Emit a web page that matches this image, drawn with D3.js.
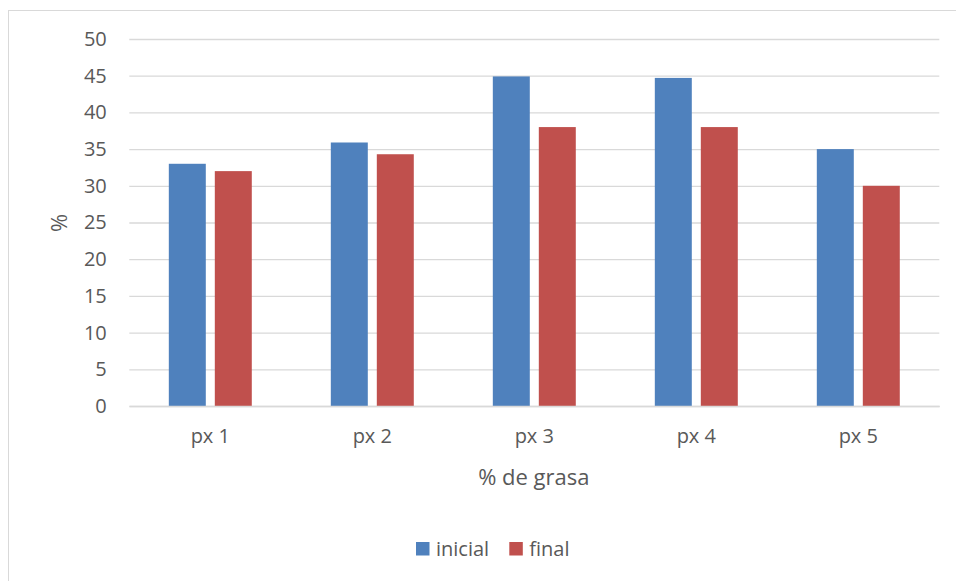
<!DOCTYPE html>
<html>
<head>
<meta charset="utf-8">
<script src="https://cdn.jsdelivr.net/npm/d3@7"></script>
<style>
  html, body { margin: 0; padding: 0; background: #fff; }
  svg { display: block; font-family: "Open Sans", "Liberation Sans", sans-serif; }
</style>
</head>
<body>
<svg id="chart" width="956" height="581"></svg>
<script>
const categories = ["px 1", "px 2", "px 3", "px 4", "px 5"];
const seriesNames = ["inicial", "final"];
const inicial = [33, 35.9, 44.9, 44.7, 35];
const final = [32, 34.3, 38, 38, 30];
const yTicks = [0, 5, 10, 15, 20, 25, 30, 35, 40, 45, 50];
const colors = ["#4f81bd", "#c0504d"];
const xTitle = "% de grasa";
const yTitle = "%";

const seriesValues = [inicial, final];
const svg = d3.select("#chart");
const W = 956, H = 581;
const plotLeft = 129.3, plotRight = 939.3, plotTop = 39, plotBottom = 406;
const textColor = "#595959";
const gridColor = "#d9d9d9";

// chart frame
svg.append("rect").attr("x", 8.5).attr("y", 10.5).attr("width", W + 10).attr("height", H + 10)
  .attr("fill", "#fff").attr("stroke", gridColor).attr("stroke-width", 1);

const x0 = d3.scaleBand().domain(categories).range([plotLeft, plotRight]).padding(0);
const x1 = d3.scaleBand().domain(seriesNames).range([0, x0.bandwidth()])
  .paddingInner(0.196).paddingOuter(0.859);
const y = d3.scaleLinear().domain([0, 50]).range([plotBottom, plotTop]);

// gridlines
const grid = svg.append("g").attr("transform", `translate(${plotLeft},0)`)
  .call(d3.axisLeft(y).tickValues(yTicks).tickSize(-(plotRight - plotLeft)).tickFormat(""));
grid.select(".domain").remove();
grid.selectAll("line").attr("stroke", gridColor).attr("stroke-width", 1.3);

// y tick labels
const yAx = svg.append("g").attr("transform", `translate(${plotLeft},0)`)
  .call(d3.axisLeft(y).tickValues(yTicks).tickSize(0).tickPadding(22.5).tickFormat(d3.format("d")));
yAx.select(".domain").remove();
yAx.selectAll("text").attr("fill", textColor).style("font-size", "20px")
  .style("font-family", "'Open Sans', sans-serif");

// bars
const groups = svg.append("g").selectAll("g").data(categories).join("g")
  .attr("transform", d => `translate(${x0(d)},0)`);
groups.selectAll("rect")
  .data((d, i) => seriesNames.map((s, j) => ({ s, v: seriesValues[j][i], j })))
  .join("rect")
  .attr("x", d => x1(d.s))
  .attr("width", x1.bandwidth())
  .attr("y", d => y(d.v))
  .attr("height", d => y(0) - y(d.v))
  .attr("fill", d => colors[d.j]);

// x axis
const xAx = svg.append("g").attr("transform", `translate(0,${plotBottom})`)
  .call(d3.axisBottom(x0).tickSize(0).tickPadding(23));
xAx.select(".domain").attr("stroke", gridColor).attr("stroke-width", 1.3);
xAx.selectAll("text").attr("fill", textColor).style("font-size", "20px")
  .style("font-family", "'Open Sans', sans-serif");

// axis titles
svg.append("text").attr("x", (plotLeft + plotRight) / 2 - 0.5).attr("y", 485)
  .attr("text-anchor", "middle").attr("fill", textColor).style("font-size", "22px")
  .text(xTitle);
svg.append("text").attr("transform", "translate(67,223) rotate(-90)")
  .attr("text-anchor", "middle").attr("fill", textColor).style("font-size", "22px")
  .text(yTitle);

// legend
const legendX = [416, 509.3];
const lg = svg.append("g").selectAll("g").data(seriesNames).join("g")
  .attr("transform", (d, i) => `translate(${legendX[i]},542)`);
lg.append("rect").attr("width", 13.5).attr("height", 13.5).attr("fill", (d, i) => colors[i]);
lg.append("text").attr("x", 20).attr("y", 13.5).attr("fill", textColor)
  .style("font-size", "20px").text(d => d);
</script>
</body>
</html>
